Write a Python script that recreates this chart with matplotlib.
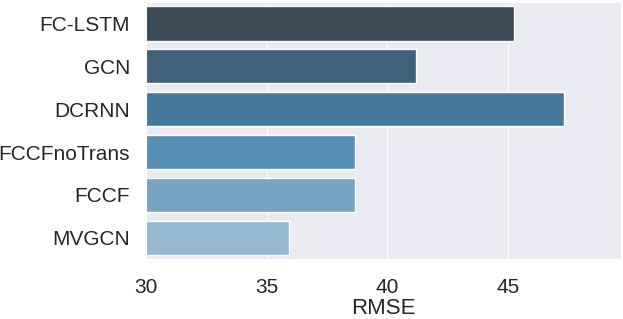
import matplotlib
matplotlib.use("Agg")
import matplotlib.pyplot as plt
import seaborn as sns
import pandas as pd

# RMSE per model
models = ['FC-LSTM', 'GCN', 'DCRNN', 'FCCFnoTrans', 'FCCF', 'MVGCN']
rmse = [45.26, 41.19, 47.32, 38.67, 38.66, 35.94]

sns.set_style("darkgrid")
plt.rcParams['font.family'] = ['Liberation Sans', 'DejaVu Sans']

df = pd.DataFrame({'model': models, 'RMSE': rmse})
colors = sns.color_palette('Blues_d', len(models))[::-1]

fig = plt.figure(figsize=(6.23, 3.19), dpi=100)
ax = fig.add_axes([0.2343, 0.1871, 0.762, 0.8066])
sns.barplot(data=df, x='RMSE', y='model', hue='model', palette=colors,
            legend=False, ax=ax, orient='h')

ax.set_xlim(30, 49.67)
ax.set_xticks([30, 35, 40, 45])
ax.set_ylabel('')
ax.set_xlabel('RMSE', fontsize=16, labelpad=1, color='#262626')
ax.tick_params(axis='both', labelsize=15, colors='#262626')
ax.tick_params(axis='y', pad=8)
ax.tick_params(axis='x', pad=10)

fig.savefig('out.png', dpi=100)
